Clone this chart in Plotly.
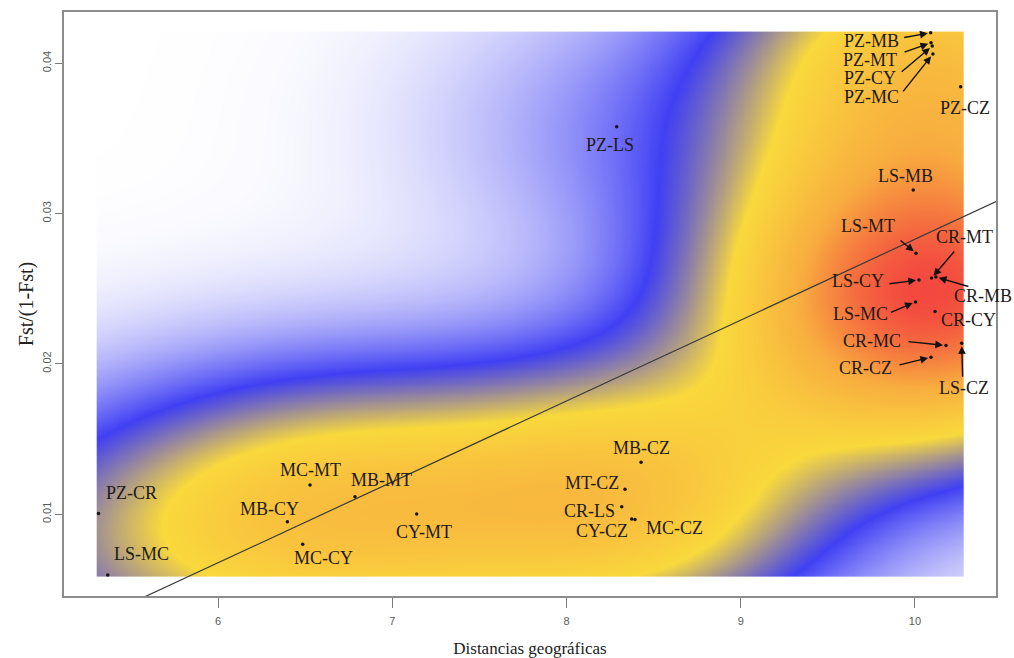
import numpy as np
import plotly.graph_objects as go

# Pairwise population comparisons
pairs = ["PZ-MB", "PZ-MT", "PZ-CY", "PZ-MC", "PZ-CZ", "PZ-LS", "PZ-CR",
         "LS-MB", "LS-MT", "CR-MT", "CR-MB", "LS-CY", "LS-MC", "CR-CY", "CR-MC", "LS-CZ", "CR-CZ",
         "MB-CZ", "MT-CZ", "CR-LS", "CY-CZ", "MC-CZ",
         "MC-MT", "MB-MT", "MB-CY", "MC-CY", "CY-MT", "LS-MC"]
geo_dist = [10.090, 10.092, 10.099, 10.103, 10.262, 8.288, 5.314,
            9.990, 10.006, 10.095, 10.120, 10.023, 10.003, 10.115, 10.178, 10.268, 10.092,
            8.428, 8.336, 8.317, 8.374, 8.393,
            6.528, 6.786, 6.398, 6.486, 7.140, 5.367]
fst_lin = [0.04202, 0.04136, 0.04114, 0.04061, 0.03843, 0.03577, 0.01003,
           0.03156, 0.02735, 0.02570, 0.02577, 0.02557, 0.02411, 0.02347, 0.02121, 0.02136, 0.02043,
           0.01344, 0.01164, 0.01049, 0.00967, 0.00963,
           0.01193, 0.01115, 0.00949, 0.00798, 0.01000, 0.00594]

x_ticks = [6, 7, 8, 9, 10]
y_ticks = [0.01, 0.02, 0.03, 0.04]
y_ticktext = ["0.01", "0.02", "0.03", "0.04"]

# Label placement (pixel offsets of the label centre from its point)
label_offsets = [(-59, 8), (-61, 17), (-62, 32), (-61, 43), (4, 21), (-7, 18), (33, -21),
                 (-8, -14), (-48, -27), (33, -41), (47, 19), (-61, 1), (-55, 12), (33, 8),
                 (-74, -5), (2, 45), (-66, 11),
                 (0, -14), (-33, -6), (-32, 4), (-30, 12), (40, 8),
                 (0, -15), (27, -17), (-18, -13), (21, 14), (7, 18), (34, -21)]
# Arrow tails (pixel offsets from the point) for crowded labels
arrow_tails = {0: (-28, 5), 1: (-28, 10), 2: (-32, 27), 3: (-31, 39),
               8: (-17, -14), 9: (24, -28), 10: (34, 10), 11: (-31, 4),
               12: (-26, 11), 14: (-39, -4), 15: (1, 35), 16: (-33, 8)}

x = np.array(geo_dist)
y = np.array(fst_lin)
n = len(x)


# 2-D Gaussian kernel density (normal-reference bandwidth)
def bw_nrd(v):
    q75, q25 = np.percentile(v, [75, 25])
    return 4 * 1.06 * min(np.std(v, ddof=1), (q75 - q25) / 1.34) * len(v) ** -0.2


hx, hy = bw_nrd(x) / 4, bw_nrd(y) / 4
gx = np.linspace(x.min(), x.max(), 240)
gy = np.linspace(y.min(), y.max(), 240)
kx = np.exp(-0.5 * ((gx[:, None] - x[None, :]) / hx) ** 2) / hx
ky = np.exp(-0.5 * ((gy[:, None] - y[None, :]) / hy) ** 2) / hy
dens = ky @ kx.T / (2 * np.pi * n)
dens = dens / dens.max()

colorscale = [[0.0, "#ffffff"], [0.24, "#4040f4"], [0.46, "#f9d93c"],
              [0.72, "#f8ad3f"], [1.0, "#f3483f"]]

# Linear fit
slope, intercept = np.polyfit(x, y, 1)
x_range = [5.116, 10.465]
y_range = [0.004544, 0.0434]
fit_x = np.array(x_range)
fit_y = intercept + slope * fit_x

fig = go.Figure()
fig.add_trace(go.Heatmap(x=gx, y=gy, z=dens, colorscale=colorscale, zmin=0, zmax=1,
                         showscale=False, zsmooth="best", hoverinfo="skip"))
fig.add_trace(go.Scatter(x=fit_x, y=fit_y, mode="lines",
                         line=dict(color="#3a3a3a", width=1.2), hoverinfo="skip"))
fig.add_trace(go.Scatter(x=x, y=y, mode="markers", text=pairs,
                         marker=dict(color="#151515", size=3.5), hoverinfo="text"))

label_font = dict(family="Liberation Serif, Times New Roman, serif", size=18, color="#1f1a17")
annotations = []
for i, name in enumerate(pairs):
    dx, dy = label_offsets[i]
    annotations.append(dict(x=x[i], y=y[i], text=name, showarrow=False,
                            xshift=dx, yshift=-dy, xanchor="center", yanchor="middle",
                            font=label_font))
for i, (ax, ay) in arrow_tails.items():
    annotations.append(dict(x=x[i], y=y[i], text="", showarrow=True, ax=ax, ay=ay,
                            arrowhead=2, arrowsize=1.1, arrowwidth=1.4,
                            arrowcolor="#111111", standoff=3))

axis_common = dict(showgrid=False, zeroline=False, showline=True, mirror=True,
                   automargin=False,
                   linecolor="#8c8c8c", linewidth=1.5, ticks="outside",
                   tickcolor="#7a7a7a", tickwidth=1,
                   tickfont=dict(family="Liberation Sans Narrow, Liberation Sans, sans-serif",
                                 size=11, color="#5a5a5a"))

fig.update_layout(
    width=1014, height=658,
    margin=dict(l=64, r=18, t=12, b=62),
    paper_bgcolor="white", plot_bgcolor="white",
    showlegend=False,
    annotations=annotations,
    xaxis=dict(range=x_range, tickvals=x_ticks, ticklen=10, ticklabelstandoff=4,
               **axis_common,
               title=dict(text="Distancias geográficas", standoff=16,
                          font=dict(family="Liberation Serif, Times New Roman, serif",
                                    size=17, color="#222222"))),
    yaxis=dict(range=y_range, tickvals=y_ticks, ticktext=y_ticktext, tickangle=-90,
               ticklen=7, **axis_common,
               title=dict(text="Fst/(1-Fst)", standoff=2,
                          font=dict(family="Liberation Serif, Times New Roman, serif",
                                    size=20, color="#222222"))),
)

fig.write_html("out.html")
